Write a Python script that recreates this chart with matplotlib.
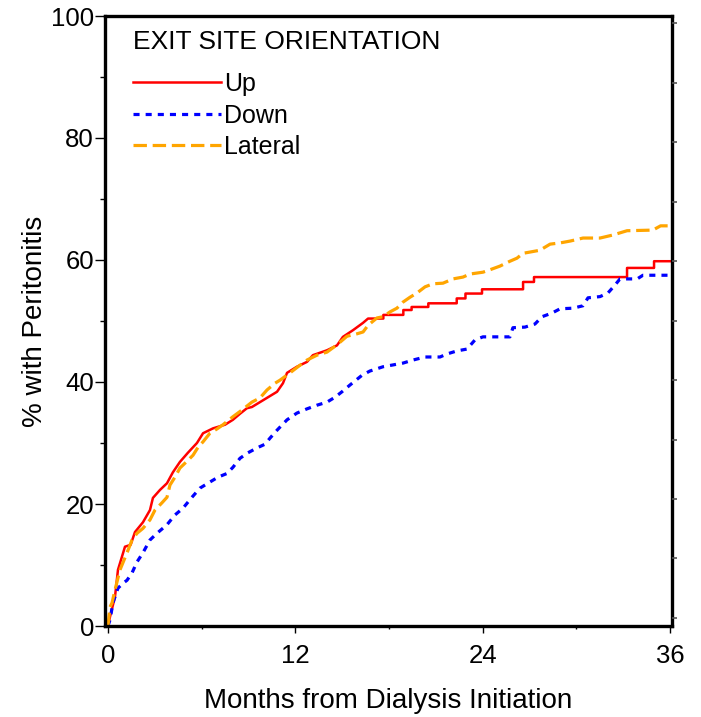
import matplotlib
matplotlib.use("Agg")
import matplotlib.pyplot as plt
from matplotlib.ticker import MultipleLocator

plt.rcParams['font.family'] = ['Liberation Sans', 'DejaVu Sans']

# ---- data (months, % with peritonitis) ----
up_months = [0, 0.13, 0.45, 0.64, 1.09, 1.45, 1.73, 2.24, 2.69, 2.88, 3.33, 3.78, 4.16, 4.61,
             5.12, 5.70, 6.09, 6.73, 7.50, 8.00, 8.46, 8.90, 9.22, 9.93, 10.83, 11.21, 11.47,
             12.10, 12.75, 13.13, 14.03, 14.67, 15.05, 15.70, 16.34, 16.66,
             17.64, 17.64, 18.92, 18.92, 19.45, 19.45, 20.52, 20.52, 22.34, 22.34,
             22.90, 22.90, 23.96, 23.96, 26.59, 26.59, 27.29, 27.29, 33.25, 33.25,
             34.98, 34.98, 36.0]
up_pct = [0, 1.5, 4.8, 9.2, 13.0, 13.3, 15.4, 17.0, 19.0, 21.0, 22.3, 23.4, 25.2, 26.9,
          28.4, 30.0, 31.6, 32.4, 33.0, 33.8, 34.8, 35.7, 35.9, 37.0, 38.4, 39.8, 41.5,
          42.5, 43.3, 44.4, 45.2, 46.0, 47.4, 48.5, 49.7, 50.4,
          50.4, 51.0, 51.0, 51.8, 51.8, 52.3, 52.3, 52.9, 52.9, 53.7,
          53.7, 54.5, 54.5, 55.2, 55.2, 56.4, 56.4, 57.2, 57.2, 58.7,
          58.7, 59.8, 59.8]

down_months = [0, 0.13, 0.32, 0.64, 0.96, 1.22, 1.54, 1.86, 2.24, 2.69, 3.14, 3.78, 4.29, 4.80,
               5.38, 5.89, 6.53, 7.05, 7.62, 8.00, 8.46, 8.97, 9.55, 10.06, 10.38, 10.83,
               11.47, 12.10, 12.75, 13.39, 14.03, 14.54, 14.99, 15.50, 16.27, 16.78, 17.62,
               18.26, 18.90, 19.54, 20.31, 21.27, 21.72, 22.36, 23.00, 23.51, 24.02, 25.75,
               25.94, 26.71, 27.35, 27.80, 28.44, 28.96, 29.79, 30.43, 30.75, 31.52, 32.03,
               32.48, 32.80, 33.90, 34.27, 36.0]
down_pct = [0, 1.0, 3.8, 6.2, 7.0, 7.5, 8.7, 10.5, 12.0, 14.1, 15.2, 16.6, 18.2, 19.3,
            21.1, 22.6, 23.6, 24.4, 25.0, 26.0, 27.5, 28.4, 29.2, 29.8, 30.8, 32.1,
            33.8, 34.9, 35.6, 36.2, 36.7, 37.5, 38.4, 39.5, 41.1, 41.8, 42.5,
            42.8, 43.1, 43.6, 44.1, 44.1, 44.6, 45.1, 45.4, 46.9, 47.4, 47.4,
            48.9, 49.0, 49.5, 50.7, 51.3, 52.0, 52.1, 52.5, 53.8, 54.0, 54.6,
            55.9, 56.9, 56.9, 57.5, 57.5]

lat_months = [0, 0.13, 0.26, 0.45, 0.77, 1.22, 1.54, 1.86, 2.24, 2.69, 3.01, 3.46, 3.78, 3.97,
              4.29, 4.61, 5.06, 5.45, 5.77, 6.09, 6.53, 6.98, 7.37, 8.00, 8.58, 9.22, 9.74,
              10.19, 10.70, 11.02, 11.66, 12.17, 12.75, 13.39, 14.03, 14.67, 15.31, 15.95,
              16.34, 16.66, 17.23, 17.62, 18.07, 18.51, 18.90, 19.35, 19.80, 20.31, 20.82,
              21.46, 22.10, 22.74, 23.19, 24.02, 24.47, 25.11, 25.75, 26.20, 26.59, 27.03,
              27.67, 28.32, 28.96, 29.60, 30.43, 31.52, 32.35, 33.25, 34.90, 35.40, 36.0]
lat_pct = [0, 3.1, 3.8, 5.9, 9.2, 12.0, 14.1, 15.2, 16.0, 17.4, 19.0, 20.2, 21.1, 23.1,
           24.4, 25.9, 27.0, 28.0, 29.3, 30.2, 31.6, 32.3, 33.0, 34.3, 35.4, 36.7, 37.4,
           38.7, 39.8, 40.3, 41.5, 42.5, 43.6, 44.4, 44.9, 46.1, 47.5, 47.9,
           48.2, 49.3, 50.5, 50.7, 51.5, 52.1, 53.1, 53.9, 54.6, 55.6, 56.1,
           56.2, 56.9, 57.2, 57.7, 58.0, 58.4, 59.0, 59.8, 60.3, 61.1, 61.3,
           61.6, 62.6, 62.8, 63.1, 63.6, 63.6, 64.1, 64.8, 64.9, 65.6, 65.6]

series_labels = ["Up", "Down", "Lateral"]
legend_title = "EXIT SITE ORIENTATION"
x_ticks = [0, 12, 24, 36]
y_ticks = [0, 20, 40, 60, 80, 100]

# ---- figure ----
fig = plt.figure(figsize=(7.01, 7.17), dpi=100)
ax = fig.add_axes([105/701, 1 - 626/717, (672-105)/701, (626-16)/717])

ax.plot(up_months, up_pct, color='#FF0000', lw=1.8, label=series_labels[0])
ax.plot(down_months, down_pct, color='#0000FF', lw=2.3,
        linestyle=(0, (1.9, 1.9)), label=series_labels[1])
ax.plot(lat_months, lat_pct, color='#FFA500', lw=2.3,
        linestyle=(0, (4.2, 1.8)), label=series_labels[2])

ax.set_xlim(-0.19, 36.13)
ax.set_ylim(0, 100)
ax.set_xticks(x_ticks)
ax.set_yticks(y_ticks)
ax.xaxis.set_minor_locator(MultipleLocator(6))
ax.yaxis.set_minor_locator(MultipleLocator(10))

for s in ax.spines.values():
    s.set_linewidth(2.4)
ax.tick_params(axis='x', which='major', direction='out', length=5, width=1.0,
               labelsize=18.5, pad=8)
ax.tick_params(axis='x', which='minor', direction='out', length=2.5, width=1.0)
ax.tick_params(axis='y', which='major', direction='out', length=7, width=1.0,
               labelsize=18.5, pad=1)
ax.tick_params(axis='y', which='minor', direction='out', length=3.5, width=1.0)

# unlabeled right-hand scale
ax2 = ax.twinx()
ax2.set_ylim(-1.35, 101.2)
ax2.set_yticks(range(0, 101, 10))
ax2.tick_params(axis='y', direction='out', length=3.5, width=1.2, colors='#555555',
                labelright=False)
for s in ax2.spines.values():
    s.set_visible(False)

ax.set_xlabel("Months from Dialysis Initiation", fontsize=20, labelpad=14)
ax.set_ylabel("% with Peritonitis", fontsize=20, labelpad=2)

ax.text(0.0494, 0.9575, legend_title, transform=ax.transAxes, fontsize=19,
        ha='left', va='center')
leg = ax.legend(loc='upper left', frameon=False, fontsize=18,
                handlelength=3.5, handletextpad=0.15, labelspacing=0.3,
                borderaxespad=0, borderpad=0, bbox_to_anchor=(0.0494, 0.908))

fig.savefig("out.png", dpi=100)
